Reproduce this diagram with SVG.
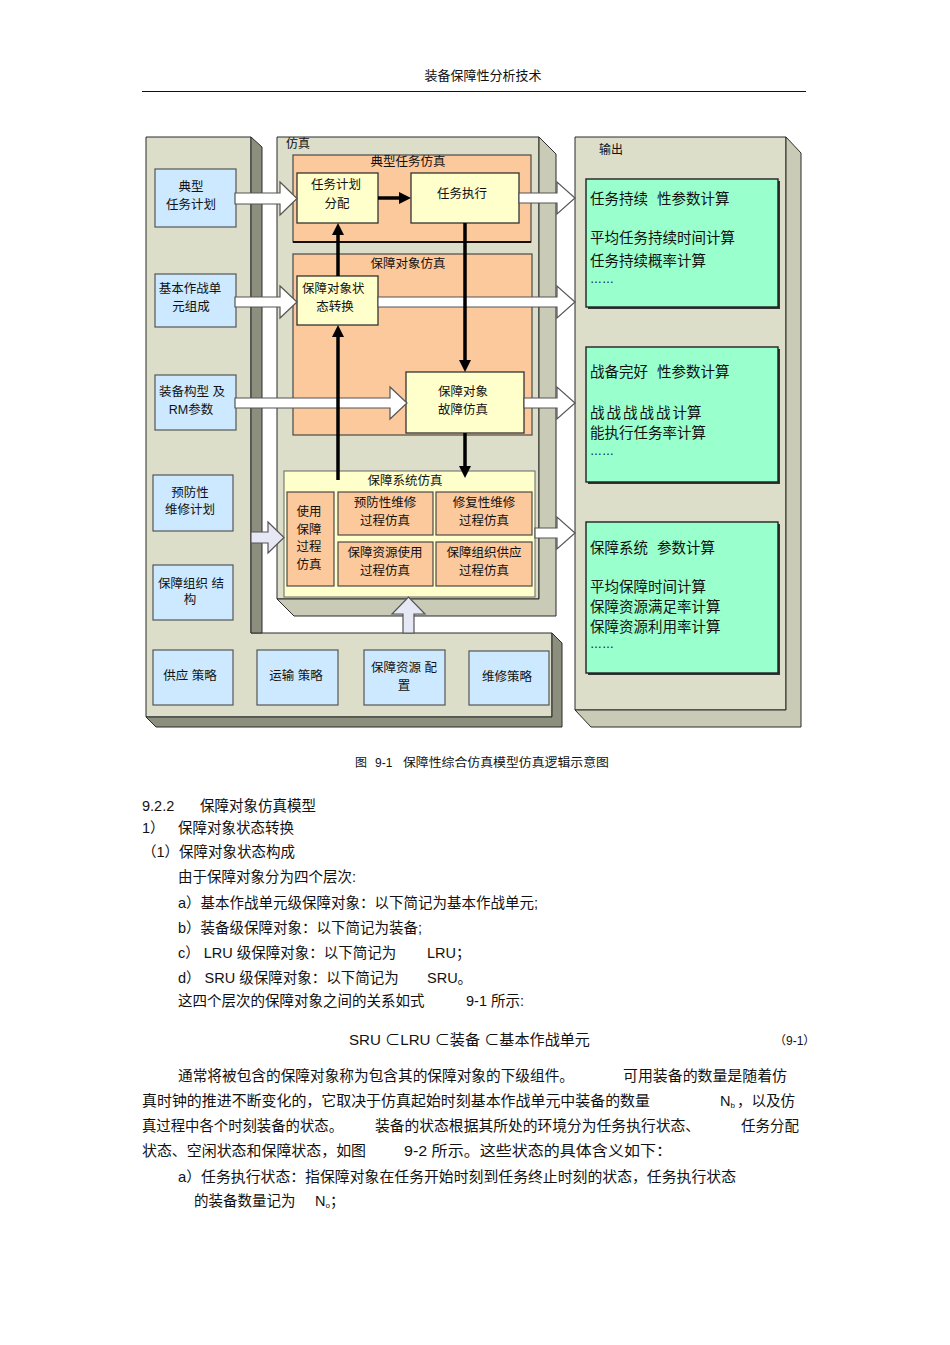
<svg xmlns="http://www.w3.org/2000/svg" width="950" height="1345" viewBox="0 0 950 1345">
<defs>
<style>
.f{font-family:"Liberation Sans","Noto Sans CJK SC",sans-serif;fill:#111}
.s12{font-size:12px}
.s125{font-size:12.5px}
.s13{font-size:13px}
.s145{font-size:14.5px}
.mid{text-anchor:middle}
.face{fill:#dcdec9;stroke:#2a2a2a;stroke-width:1}
.dk{fill:#8c8e7e;stroke:#2a2a2a;stroke-width:1}
.lt{fill:#c9cbb6;stroke:#2a2a2a;stroke-width:1}
.blue{fill:#cce9ff;stroke:#555;stroke-width:1.2}
.org{fill:#fcc99c;stroke:#4a4a4a;stroke-width:1.2}
.yel{fill:#ffffcc;stroke:#333;stroke-width:1.3}
.pale{fill:#ffffcc;stroke:#666;stroke-width:1}
.grn{fill:#99ffcc;stroke:#222;stroke-width:1.4}
.hol{fill:#ffffff;stroke:#555;stroke-width:1.2}
.lav{fill:#e6e8f6;stroke:#555;stroke-width:1.2}
.blk{stroke:#000;stroke-width:3.5;fill:none}
</style>
<marker id="ah" viewBox="0 0 12 12" refX="0" refY="6" markerWidth="12" markerHeight="12" markerUnits="userSpaceOnUse" orient="auto">
<path d="M0,0 L12,6 L0,12 z" fill="#000"/>
</marker>
</defs>

<rect width="950" height="1345" fill="#fff"/>

<!-- page header -->
<text class="f s13 mid" x="483" y="80">装备保障性分析技术</text>
<line x1="142" y1="91.5" x2="806" y2="91.5" stroke="#111" stroke-width="1"/>

<!-- left input panel -->
<g id="input-panel">
<path class="face" d="M146,137 H251 V633 H552 V717 H146 Z"/>
<path class="dk" d="M251,137 L262,147 V633 H251 Z"/>
<path class="dk" d="M552,633 L562,643 V727 H156 L146,717 H552 Z"/>
</g>

<!-- simulation panel -->
<g id="sim-panel">
<path class="face" d="M277,137 H539 V599 H277 Z"/>
<path class="lt" d="M539,137 L556,154 V616 H294 L277,599 H539 Z"/>
<text class="f s12" x="286" y="148">仿真</text>
</g>

<!-- output panel -->
<g id="output-panel">
<path class="face" d="M575,137 H786 V710 H575 Z"/>
<path class="lt" d="M786,137 L801,153 V727 H591 L575,710 H786 Z"/>
<text class="f s12" x="599" y="154">输出</text>
</g>

<!-- typical mission simulation -->
<g id="typical-mission-sim">
<rect class="org" x="293" y="155" width="238" height="87"/>
<line x1="293" y1="242" x2="531" y2="242" stroke="#111" stroke-width="2"/>
<text class="f s125 mid" x="408" y="166">典型任务仿真</text>
</g>
<g id="mission-plan">
<rect class="yel" x="297" y="173" width="81" height="50"/>
<text class="f s125 mid" x="336" y="189">任务计划</text>
<text class="f s125 mid" x="337" y="208">分配</text>
</g>
<g id="mission-exec">
<rect class="yel" x="411" y="173" width="108" height="50"/>
<text class="f s125 mid" x="462" y="198">任务执行</text>
</g>

<!-- support object simulation -->
<g id="object-sim">
<rect class="org" x="293" y="254" width="239" height="181"/>
<text class="f s125 mid" x="408" y="268">保障对象仿真</text>
</g>
<g id="state-transition">
<rect class="yel" x="297" y="276" width="81" height="49"/>
<text class="f s125" x="302" y="293">保障对象状</text>
<text class="f s125 mid" x="335" y="311">态转换</text>
</g>
<g id="failure-sim">
<rect class="yel" x="406" y="372" width="118" height="61"/>
<text class="f s125 mid" x="463" y="396">保障对象</text>
<text class="f s125 mid" x="463" y="414">故障仿真</text>
</g>

<!-- support system simulation -->
<g id="system-sim">
<rect class="pale" x="284" y="471" width="251" height="126"/>
<text class="f s125 mid" x="405" y="485">保障系统仿真</text>
</g>
<g id="use-support">
<rect class="org" x="287" y="492" width="47" height="94"/>
<text class="f s125 mid" x="309" y="516">使用</text>
<text class="f s125 mid" x="309" y="534">保障</text>
<text class="f s125 mid" x="309" y="551">过程</text>
<text class="f s125 mid" x="309" y="569">仿真</text>
</g>
<g id="preventive">
<rect class="org" x="338" y="492" width="95" height="43"/>
<text class="f s125 mid" x="385" y="507">预防性维修</text>
<text class="f s125 mid" x="385" y="525">过程仿真</text>
</g>
<g id="corrective">
<rect class="org" x="436" y="492" width="96" height="43"/>
<text class="f s125 mid" x="484" y="507">修复性维修</text>
<text class="f s125 mid" x="484" y="525">过程仿真</text>
</g>
<g id="resource-use">
<rect class="org" x="338" y="542" width="95" height="44"/>
<text class="f s125 mid" x="385" y="557">保障资源使用</text>
<text class="f s125 mid" x="385" y="575">过程仿真</text>
</g>
<g id="org-supply">
<rect class="org" x="436" y="542" width="96" height="44"/>
<text class="f s125 mid" x="484" y="557">保障组织供应</text>
<text class="f s125 mid" x="484" y="575">过程仿真</text>
</g>

<!-- input boxes -->
<g id="in-typical">
<rect class="blue" x="155" y="169" width="81" height="58"/>
<text class="f s125 mid" x="191" y="191">典型</text>
<text class="f s125 mid" x="191" y="209">任务计划</text>
</g>
<g id="in-unit">
<rect class="blue" x="155" y="274" width="81" height="53"/>
<text class="f s125 mid" x="190" y="293">基本作战单</text>
<text class="f s125 mid" x="191" y="311">元组成</text>
</g>
<g id="in-config">
<rect class="blue" x="155" y="375" width="81" height="55"/>
<text class="f s125 mid" x="192" y="396">装备构型 及</text>
<text class="f s125 mid" x="191" y="414">RM参数</text>
</g>
<g id="in-preventive">
<rect class="blue" x="153" y="475" width="80" height="56"/>
<text class="f s125 mid" x="190" y="497">预防性</text>
<text class="f s125 mid" x="190" y="514">维修计划</text>
</g>
<g id="in-org">
<rect class="blue" x="153" y="565" width="80" height="55"/>
<text class="f s125 mid" x="191" y="588">保障组织 结</text>
<text class="f s125 mid" x="190" y="604">构</text>
</g>
<g id="in-supply">
<rect class="blue" x="153" y="650" width="80" height="55"/>
<text class="f s125 mid" x="190" y="680">供应 策略</text>
</g>
<g id="in-transport">
<rect class="blue" x="257" y="650" width="81" height="55"/>
<text class="f s125 mid" x="296" y="680">运输 策略</text>
</g>
<g id="in-resource">
<rect class="blue" x="364" y="650" width="81" height="55"/>
<text class="f s125 mid" x="404" y="672">保障资源 配</text>
<text class="f s125 mid" x="404" y="690">置</text>
</g>
<g id="in-maint">
<rect class="blue" x="469" y="651" width="80" height="54"/>
<text class="f s125 mid" x="507" y="681">维修策略</text>
</g>

<!-- output boxes -->
<g id="out-mission">
<rect x="588" y="181" width="192" height="128" fill="#333"/>
<rect class="grn" x="586" y="179" width="192" height="128"/>
<text class="f s145" x="590" y="204">任务持续</text>
<text class="f s145" x="657" y="204">性参数计算</text>
<text class="f s145" x="590" y="243">平均任务持续时间计算</text>
<text class="f s145" x="590" y="266">任务持续概率计算</text>
<text class="f s12" x="590" y="283">……</text>
</g>
<g id="out-readiness">
<rect x="588" y="349" width="192" height="135" fill="#333"/>
<rect class="grn" x="586" y="347" width="192" height="135"/>
<text class="f s145" x="590" y="377">战备完好</text>
<text class="f s145" x="657" y="377">性参数计算</text>
<text class="f s145" x="590" y="418"><tspan letter-spacing="2">战战战战战</tspan>计算</text>
<text class="f s145" x="590" y="438">能执行任务率计算</text>
<text class="f s12" x="590" y="455">……</text>
</g>
<g id="out-system">
<rect x="588" y="524" width="192" height="151" fill="#333"/>
<rect class="grn" x="586" y="522" width="192" height="151"/>
<text class="f s145" x="590" y="553">保障系统</text>
<text class="f s145" x="657" y="553">参数计算</text>
<text class="f s145" x="590" y="592">平均保障时间计算</text>
<text class="f s145" x="590" y="612">保障资源满足率计算</text>
<text class="f s145" x="590" y="632">保障资源利用率计算</text>
<text class="f s12" x="590" y="648">……</text>
</g>

<!-- connectors -->
<g id="connectors">
<polygon class="hol" points="235,193 280,193 280,182 297,198.5 280,215 280,204 235,204"/>
<polygon class="hol" points="235,297 280,297 280,286 297,302 280,318 280,307 235,307"/>
<polygon class="hol" points="235,398 390,398 390,387 407,403 390,419 390,408 235,408"/>
<polygon class="lav" points="251,532 268,532 268,522 284,537.5 268,553 268,543 251,543"/>
<polygon class="lav" points="403,633 403,614 392,614 408.5,597 425,614 414,614 414,633"/>
<polygon class="hol" points="519,193 557,193 557,182 575,198 557,214 557,203 519,203"/>
<polygon class="hol" points="378,297 557,297 557,286 575,302 557,318 557,307 378,307"/>
<polygon class="hol" points="524,398 557,398 557,387 575,403 557,419 557,408 524,408"/>
<polygon class="hol" points="535,528 557,528 557,517 575,533 557,549 557,538 535,538"/>
<line class="blk" x1="378" y1="198" x2="399" y2="198" marker-end="url(#ah)"/>
<line class="blk" x1="338" y1="276" x2="338" y2="235" marker-end="url(#ah)"/>
<line class="blk" x1="338" y1="480" x2="338" y2="337" marker-end="url(#ah)"/>
<line class="blk" x1="465" y1="223" x2="465" y2="360" marker-end="url(#ah)"/>
<line class="blk" x1="465" y1="433" x2="465" y2="466" marker-end="url(#ah)"/>
</g>

<!-- caption -->
<g id="caption">
<text class="f s12" x="355" y="767">图</text>
<text class="f s12" x="375" y="767">9-1</text>
<text class="f s12" x="403" y="767" textLength="206" lengthAdjust="spacingAndGlyphs">保障性综合仿真模型仿真逻辑示意图</text>
</g>

<!-- body text -->
<g id="body-text">
<text class="f s145" x="142" y="811">9.2.2</text>
<text class="f s145" x="200" y="811">保障对象仿真模型</text>
<text class="f s145" x="142" y="833">1）</text>
<text class="f s145" x="178" y="833">保障对象状态转换</text>
<text class="f s145" x="142" y="857">（1）保障对象状态构成</text>
<text class="f s145" x="178" y="882">由于保障对象分为四个层次:</text>
<text class="f s145" x="178" y="908">a）基本作战单元级保障对象：以下简记为基本作战单元;</text>
<text class="f s145" x="178" y="933">b）装备级保障对象：以下简记为装备;</text>
<text class="f s145" x="178" y="958">c） LRU  级保障对象：以下简记为</text>
<text class="f s145" x="427" y="958">LRU；</text>
<text class="f s145" x="178" y="983">d） SRU 级保障对象：以下简记为</text>
<text class="f s145" x="427" y="983">SRU。</text>
<text class="f s145" x="178" y="1006">这四个层次的保障对象之间的关系如式</text>
<text class="f s145" x="466" y="1006">9-1 所示:</text>
<text class="f s145" x="349" y="1045" textLength="241" lengthAdjust="spacingAndGlyphs">SRU ⊂LRU ⊂装备 ⊂基本作战单元</text>
<text class="f s12" x="774" y="1045">（9-1）</text>
<text class="f s145" x="178" y="1081" textLength="396" lengthAdjust="spacingAndGlyphs">通常将被包含的保障对象称为包含其的保障对象的下级组件。</text>
<text class="f s145" x="623" y="1081" textLength="164" lengthAdjust="spacingAndGlyphs">可用装备的数量是随着仿</text>
<text class="f s145" x="142" y="1106" textLength="508" lengthAdjust="spacingAndGlyphs">真时钟的推进不断变化的，它取决于仿真起始时刻基本作战单元中装备的数量</text>
<text class="f s145" x="720" y="1106">N<tspan font-size="8" dy="2">b</tspan><tspan dy="-2" dx="2">，以及仿</tspan></text>
<text class="f s145" x="142" y="1131" textLength="201" lengthAdjust="spacingAndGlyphs">真过程中各个时刻装备的状态。</text>
<text class="f s145" x="375" y="1131" textLength="325" lengthAdjust="spacingAndGlyphs">装备的状态根据其所处的环境分为任务执行状态、</text>
<text class="f s145" x="741" y="1131">任务分配</text>
<text class="f s145" x="142" y="1156" textLength="224" lengthAdjust="spacingAndGlyphs">状态、空闲状态和保障状态，如图</text>
<text class="f s145" x="404" y="1156" textLength="268" lengthAdjust="spacingAndGlyphs">9-2 所示。这些状态的具体含义如下：</text>
<text class="f s145" x="178" y="1182" textLength="558" lengthAdjust="spacingAndGlyphs">a）任务执行状态：指保障对象在任务开始时刻到任务终止时刻的状态，任务执行状态</text>
<text class="f s145" x="194" y="1206">的装备数量记为</text>
<text class="f s145" x="315" y="1206">N<tspan font-size="8" dy="2">o</tspan><tspan dy="-2">；</tspan></text>
</g>
</svg>
